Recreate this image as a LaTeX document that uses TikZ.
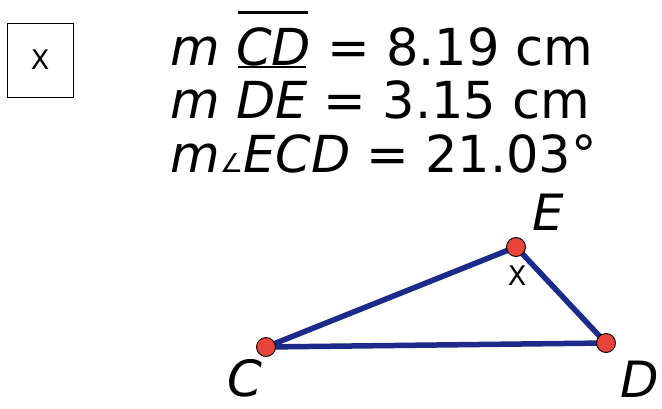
\documentclass[tikz,border=0pt]{standalone}
\usepackage{fontspec}
\setmainfont{DejaVu Sans}
\definecolor{segblue}{HTML}{1C2A8A}
\definecolor{ptred}{HTML}{E8443A}
\begin{document}
\begin{tikzpicture}[x=1pt,y=-1pt,
  meas/.style={anchor=base west,inner sep=0pt,font=\fontsize{51}{51}\selectfont},
  vlabel/.style={inner sep=0pt,font=\fontsize{50}{50}\selectfont\itshape},
  seg/.style={draw=segblue,line width=5.5pt},
  pt/.style={circle,fill=ptred,draw=black,line width=0.9pt,minimum size=19pt,inner sep=0pt},
  smallx/.style={inner sep=0pt,font=\fontsize{27}{27}\selectfont},
  xbox/.style={draw=black,line width=0.8pt,minimum width=66pt,minimum height=74pt,inner sep=0pt,font=\fontsize{27}{27}\selectfont}]
\useasboundingbox (0,0) rectangle (662,408);
\node[xbox] (box) at (40,60) {X};
\node[meas] (l1) at (170,65) {\textit{m} \textit{CD} = 8.19 cm};
\node[meas] (l2) at (170,118) {\textit{m} \textit{DE} = 3.15 cm};
\node[meas] (l3) at (170,172) {\textit{m}{\fontsize{26}{26}\selectfont ∠}\textit{ECD} = 21.03°};
\coordinate (ob1) at (238,12);
\coordinate (ob2) at (308,12);
\draw[line width=3pt] (ob1) -- (ob2);
\coordinate (ub1) at (238,67);
\coordinate (ub2) at (306,67);
\draw[line width=2.5pt] (ub1) -- (ub2);
\coordinate (C) at (266,347);
\coordinate (E) at (516,247);
\coordinate (D) at (606,343);
\draw[seg,line join=round] (C) -- (E) -- (D) -- cycle;
\node[pt] (pC) at (C) {};
\node[pt] (pE) at (E) {};
\node[pt] (pD) at (D) {};
\node[smallx] (xl) at (517,276) {X};
\node[vlabel] (lE) at (548,212) {E};
\node[vlabel] (lC) at (245,378) {C};
\node[vlabel] (lD) at (640,379) {D};
\end{tikzpicture}
\end{document}
